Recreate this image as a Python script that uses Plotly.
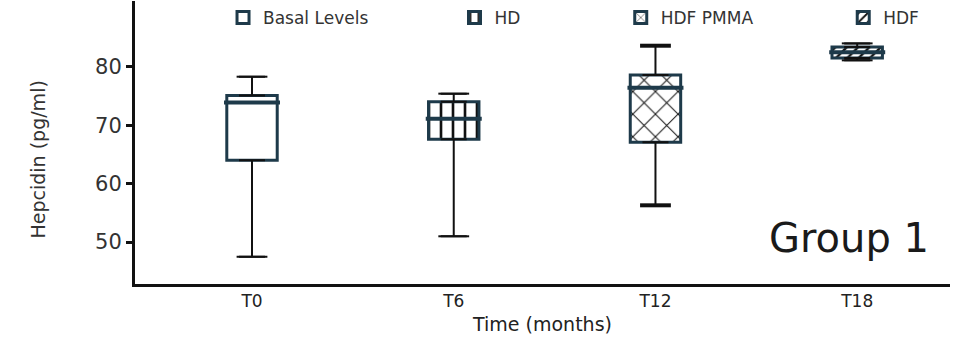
import plotly.graph_objects as go

# ---- data ----
categories = ["T0", "T6", "T12", "T18"]
series_names = ["Basal Levels", "HD", "HDF PMMA", "HDF"]
whisker_min = [47.5, 51.0, 56.3, 81.1]
q1_values = [64.0, 67.6, 67.1, 81.5]
median_values = [73.9, 71.1, 76.4, 82.5]
q3_values = [75.1, 74.0, 78.6, 83.4]
whisker_max = [78.3, 75.4, 83.6, 84.0]

# ---- styles ----
patterns = ["", "|", "x", "/"]
pattern_sizes = [8, 12, 16, 8]
pattern_solidity = [0.2, 0.22, 0.12, 0.3]
cap_thickness = [2, 2, 4, 2]
box_line = "#1e3a4a"
font_family = "DejaVu Sans"
legend_x = [0.108, 0.392, 0.596, 0.869]

fig = go.Figure()

for i, cat in enumerate(categories):
    lg = "legend" if i == 0 else f"legend{i+1}"
    # box body (q1 -> q3) with hatch pattern
    fig.add_trace(go.Bar(
        x=[cat], base=[q1_values[i]], y=[q3_values[i] - q1_values[i]],
        width=0.25, name=series_names[i], legend=lg,
        marker=dict(color="white", opacity=1, line=dict(color=box_line, width=3),
                    pattern=dict(shape=patterns[i], fgcolor="#111111", fgopacity=1,
                                 bgcolor="white", fillmode="overlay",
                                 size=pattern_sizes[i], solidity=pattern_solidity[i])),
        hoverinfo="skip",
    ))
    # upper whisker
    fig.add_trace(go.Scatter(
        x=[cat], y=[q3_values[i]], mode="markers",
        marker=dict(size=1, opacity=0), showlegend=False, hoverinfo="skip",
        error_y=dict(type="data", symmetric=False,
                     array=[whisker_max[i] - q3_values[i]], arrayminus=[0],
                     color="#111111", thickness=2, width=13),
    ))
    # lower whisker
    fig.add_trace(go.Scatter(
        x=[cat], y=[q1_values[i]], mode="markers",
        marker=dict(size=1, opacity=0), showlegend=False, hoverinfo="skip",
        error_y=dict(type="data", symmetric=False,
                     array=[0], arrayminus=[q1_values[i] - whisker_min[i]],
                     color="#111111", thickness=2, width=13),
    ))
    # whisker caps (thicker where needed)
    fig.add_trace(go.Scatter(
        x=[cat, cat], y=[whisker_min[i], whisker_max[i]], mode="markers",
        marker=dict(symbol="line-ew", size=22,
                    line=dict(color="#111111", width=cap_thickness[i])),
        showlegend=False, hoverinfo="skip",
    ))
    # median line
    fig.add_trace(go.Scatter(
        x=[cat], y=[median_values[i]], mode="markers",
        marker=dict(symbol="line-ew", size=40,
                    line=dict(color=box_line, width=4)),
        showlegend=False, hoverinfo="skip",
    ))

legend_common = dict(orientation="h", yanchor="middle", y=0.94, xanchor="left",
                     bgcolor="rgba(0,0,0,0)",
                     font=dict(family=font_family, size=17, color="#333333"))
layout_legends = {}
for i in range(4):
    key = "legend" if i == 0 else f"legend{i+1}"
    layout_legends[key] = dict(legend_common, x=legend_x[i])

fig.update_layout(
    width=974, height=344,
    margin=dict(l=135, r=24, t=0, b=60),
    paper_bgcolor="white", plot_bgcolor="white",
    barmode="overlay",
    font=dict(family=font_family, color="#333333"),
    xaxis=dict(type="category", categoryorder="array", categoryarray=categories,
               range=[-0.58, 3.46], showgrid=False, zeroline=False,
               showline=True, linecolor="#111111", linewidth=3,
               ticks="", tickfont=dict(family=font_family, size=17, color="#222222"),
               title=dict(text="Time (months)", standoff=8,
                          font=dict(family=font_family, size=19, color="#222222"))),
    yaxis=dict(range=[42.84, 91.25], tickvals=[50, 60, 70, 80],
               showgrid=False, zeroline=False,
               showline=True, linecolor="#111111", linewidth=3,
               ticks="outside", ticklen=6, tickwidth=3, tickcolor="#111111",
               tickfont=dict(family=font_family, size=21, color="#333333")),
    annotations=[
        dict(text="Hepcidin (pg/ml)", xref="paper", yref="paper",
             x=-0.119, y=0.44, xanchor="center", yanchor="middle",
             textangle=-90, showarrow=False,
             font=dict(family=font_family, size=19, color="#333333")),
        dict(text="Group 1", xref="paper", yref="paper",
             x=0.876, y=0.162, xanchor="center", yanchor="middle",
             showarrow=False,
             font=dict(family=font_family, size=40, color="#1a1a1a")),
    ],
    **layout_legends,
)

fig.write_html("out.html")
